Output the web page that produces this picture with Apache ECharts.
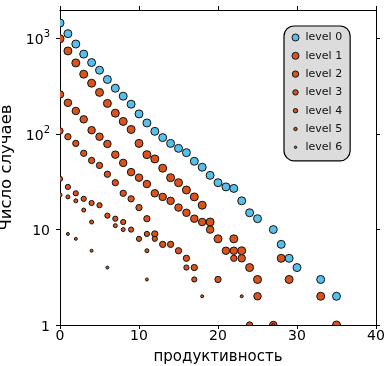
<!DOCTYPE html>
<html>
<head>
<meta charset="utf-8">
<script src="https://cdn.jsdelivr.net/npm/echarts@6/dist/echarts.min.js"></script>
<style>
  html, body { margin: 0; padding: 0; background: #fff; }
  #chart { width: 386px; height: 366px; }
</style>
</head>
<body>
<div id="chart"></div>
<script>
// productivity values (x) shared by every level
const productivity = [0, 1, 2, 3, 4, 5, 6, 7, 8, 9, 10, 11, 12, 13, 14, 15, 16, 17,
  18, 19, 20, 21, 22, 23, 24, 25, 26, 27, 28, 29, 30, 31, 32, 33, 34, 35];

// number of cases per productivity value; null = no cases
const level0 = [1460, 1130, 880, 690, 563, 468, 374, 303, 250, 206, 163, 131, 107, 92, 80, 71, 64, 52,
  45, 37, 31, 28, 27, 20, 15, 13, null, 10, 7, 5, 4, null, null, 3, null, 2];
const level1 = [1000, 745, 558, 425, 342, 274, 210, 166, 136, 112, 80, 61, 55, 44, 35, 31, 26, 22,
  18, 12, 8, null, 8, 6, 4, 3, null, null, 5, 3, null, null, null, 2, null, 1];
const level2 = [261, 213, 175, 143, 110, 94, 79, 61, 50, 40, 35, 30, 24, 22, 20, 17, 15, 13,
  12, 10, null, 6, 6, 5, null, 2, null, 1, null, null, null, null, null, null, null, null];
const level3 = [108, 94, 80, 63, 53, 47, 38, 31, 24, 21, 17, 13, 9, 7, 7, 6, 5, 4,
  null, null, 3, null, 5, null, 1, null, null, null, null, null, null, null, null, null, null, null];
const level4 = [34, 28, 24, 21, 19, 18, 14, 13, 12, 10, 8, 9, 8, null, null, null, 4, 3,
  null, null, null, null, null, null, null, null, null, null, null, null, null, null, null, null, null, null];
const level5 = [23, 22, 20, 16, 12, null, null, 11, 10, null, null, 6, null, null, null, null, null, null,
  null, null, null, null, null, null, null, null, null, null, null, null, null, null, null, null, null, null];
const level6 = [null, 9, 8, null, 6, null, 4, null, null, null, null, 3, null, null, null, null, null, null,
  2, null, null, null, null, 2, null, null, null, 1, null, null, null, null, null, null, null, null];

const levelNames = ['level 0', 'level 1', 'level 2', 'level 3', 'level 4', 'level 5', 'level 6'];
const levelCounts = [level0, level1, level2, level3, level4, level5, level6];

// y tick values and x tick step
const yTicks = [1, 10, 100, 1000];
const xTickStep = 10;

// marker styling per level
const BLUE = '#58bfea';
const ORANGE = '#da531c';
const EDGE = '#111';
const fills = [BLUE, ORANGE, ORANGE, ORANGE, ORANGE, ORANGE, ORANGE];
const diameters = [9, 9, 8.5, 7.3, 6.2, 5, 4];
const legendDiameters = [8, 8, 7.4, 6.4, 5.4, 4.4, 3.4];

function pairs(counts) {
  const out = [];
  productivity.forEach(function (x, i) {
    if (counts[i] != null) out.push([x, counts[i]]);
  });
  return out;
}

function circleRenderer(radius, fill) {
  return function (params, api) {
    const pt = api.coord([api.value(0), api.value(1)]);
    return {
      type: 'circle',
      shape: { cx: pt[0], cy: pt[1], r: radius },
      style: { fill: fill, stroke: EDGE, lineWidth: 1 }
    };
  };
}

// legend icon: circle of the level's size inside a fixed 10x10 box
function legendIcon(d) {
  const r = d / 2 - 0.5;
  const a = (5 - r).toFixed(2), b = (5 + r).toFixed(2), rr = r.toFixed(2);
  return 'path://M0,0M10,10M' + a + ',5A' + rr + ',' + rr + ',0,1,1,' + b + ',5A' + rr + ',' + rr + ',0,1,1,' + a + ',5Z';
}

const series = levelNames.map(function (name, k) {
  return {
    type: 'custom',
    name: name,
    xAxisIndex: 0,
    yAxisIndex: 0,
    clip: true,
    encode: { x: 0, y: 1 },
    data: pairs(levelCounts[k]),
    itemStyle: { color: fills[k], borderColor: EDGE, borderWidth: 1 },
    renderItem: circleRenderer(diameters[k] / 2 - 0.5, fills[k])
  };
});

const axisLineStyle = { color: '#000', width: 1 };
const tickStyle = { length: 4, inside: false, lineStyle: { color: '#000', width: 1 } };

const chart = echarts.init(document.getElementById('chart'), null, { renderer: 'canvas' });
chart.setOption({
  animation: false,
  textStyle: { fontFamily: 'DejaVu Sans' },
  grid: { left: 60, right: 10, top: 10, bottom: 41, containLabel: false, outerBoundsMode: 'none' },
  legend: {
    orient: 'vertical',
    left: 284,
    top: 26,
    padding: [6, 8, 8, 6],
    itemGap: 7.3,
    itemWidth: 10,
    itemHeight: 10,
    backgroundColor: '#dcdcdc',
    borderColor: '#000',
    borderWidth: 1.2,
    borderRadius: 10,
    selectedMode: false,
    textStyle: { fontSize: 11, color: '#111', fontFamily: 'DejaVu Sans' },
    data: levelNames.map(function (name, k) {
      return {
        name: name,
        icon: legendIcon(legendDiameters[k]),
        itemStyle: { color: fills[k], borderColor: EDGE, borderWidth: 1 }
      };
    })
  },
  xAxis: [
    {
      type: 'value', position: 'bottom', min: 0, max: 40, interval: xTickStep,
      axisLine: { show: true, onZero: false, lineStyle: axisLineStyle },
      axisTick: tickStyle,
      axisLabel: { color: '#000', fontSize: 14, margin: 4 },
      splitLine: { show: false },
      name: 'продуктивность', nameLocation: 'middle', nameGap: 25,
      nameTextStyle: { fontSize: 15, color: '#000' }
    },
    {
      type: 'value', position: 'top', min: 0, max: 40, interval: xTickStep,
      axisLine: { show: true, onZero: false, lineStyle: axisLineStyle },
      axisTick: tickStyle,
      axisLabel: { show: false },
      splitLine: { show: false }
    }
  ],
  yAxis: [
    {
      type: 'log', logBase: 10, position: 'left', min: 1, max: 2000,
      axisLine: { show: true, onZero: false, lineStyle: axisLineStyle },
      axisTick: Object.assign({ show: true, customValues: yTicks }, tickStyle),
      minorTick: { show: false },
      axisLabel: {
        customValues: yTicks,
        margin: 10,
        color: '#000',
        formatter: function (v) {
          const p = Math.round(Math.log10(v));
          if (p >= 2) return '{b|10}{s|' + p + '}';
          return '{b|' + Math.round(v) + '}';
        },
        rich: {
          b: { fontSize: 14, color: '#000', lineHeight: 18, verticalAlign: 'bottom' },
          s: { fontSize: 10, color: '#000', lineHeight: 10, verticalAlign: 'top' }
        }
      },
      splitLine: { show: false },
      name: 'Число случаев', nameLocation: 'middle', nameGap: 35, nameRotate: 90,
      nameTextStyle: { fontSize: 16.5, color: '#000' }
    },
    {
      type: 'log', logBase: 10, position: 'right', min: 1, max: 2000,
      axisLine: { show: true, onZero: false, lineStyle: axisLineStyle },
      axisTick: Object.assign({ show: true, customValues: yTicks }, tickStyle),
      minorTick: { show: false },
      axisLabel: { show: false, customValues: yTicks },
      splitLine: { show: false }
    }
  ],
  series: series
});
</script>
</body>
</html>
